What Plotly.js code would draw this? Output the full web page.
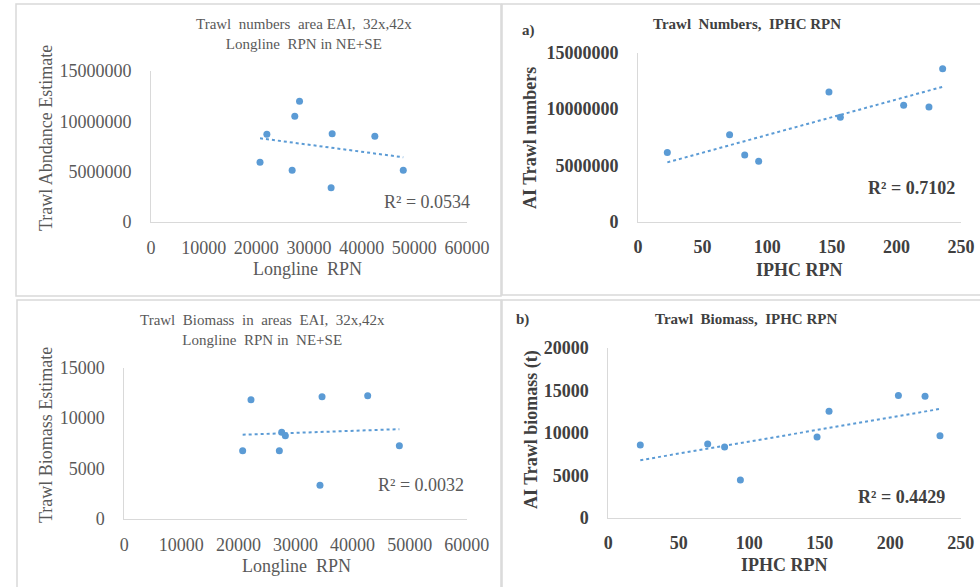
<!DOCTYPE html>
<html>
<head>
<meta charset="utf-8">
<script src="https://cdn.plot.ly/plotly-3.0.1.min.js"></script>
<style>html,body{margin:0;padding:0;background:#fff}#chart{width:980px;height:587px}</style>
</head>
<body>
<div id="chart"></div>
<script>
// ---- Data ----
// Panel 1: Trawl numbers vs Longline RPN
const p1Longline = [20700, 22000, 26800, 27300, 28200, 34400, 34200, 42500, 47900];
const p1TrawlNumbers = [5930000, 8710000, 5130000, 10500000, 12000000, 8770000, 3410000, 8510000, 5130000];
// Panel 2: Trawl numbers vs IPHC RPN
const p2Iphc = [22.7, 70.9, 82.6, 93.4, 147.8, 156.6, 205.6, 225.2, 235.8];
const p2TrawlNumbers = [6150000, 7720000, 5920000, 5360000, 11510000, 9260000, 10330000, 10180000, 13580000];
// Panel 3: Trawl biomass vs Longline RPN
const p3Longline = [20740, 22200, 27170, 27580, 28220, 34650, 34290, 42650, 48200];
const p3TrawlBiomass = [6770, 11830, 6770, 8590, 8260, 12130, 3340, 12230, 7270];
// Panel 4: Trawl biomass vs IPHC RPN
const p4Iphc = [22.7, 70.5, 82.5, 93.7, 148.1, 156.6, 205.8, 224.7, 235.3];
const p4TrawlBiomass = [8550, 8670, 8310, 4430, 9490, 12510, 14390, 14280, 9650];

const panelTitles = [
  "Trawl  numbers  area EAI,  32x,42x<br>Longline  RPN in NE+SE",
  "Trawl  Numbers,  IPHC RPN",
  "Trawl  Biomass  in  areas  EAI,  32x,42x<br>Longline  RPN in  NE+SE",
  "Trawl  Biomass,  IPHC RPN"
];
const xTitles = ["Longline  RPN", "IPHC RPN", "Longline  RPN", "IPHC RPN"];
const yTitles = ["Trawl Abndance Estimate", "AI Trawl numbers", "Trawl Biomass Estimate", "AI Trawl biomass (t)"];
const r2Labels = ["R² = 0.0534", "R² = 0.7102", "R² = 0.0032", "R² = 0.4429"];
const panelLetters = ["a)", "b)"];
const xTicks1 = [0, 10000, 20000, 30000, 40000, 50000, 60000];
const yTicks1 = [0, 5000000, 10000000, 15000000];
const xTicks2 = [0, 50, 100, 150, 200, 250];
const yTicks3 = [0, 5000, 10000, 15000];
const yTicks4 = [0, 5000, 10000, 15000, 20000];

// ---- helpers ----
const W = 980, H = 587;
const px = v => v / W;
const py = v => 1 - v / H;
const blue = '#5b9bd5';
const serif = 'Liberation Serif, Times New Roman, serif';

function linfit(xs, ys) {
  const n = xs.length;
  const mx = xs.reduce((a, b) => a + b, 0) / n;
  const my = ys.reduce((a, b) => a + b, 0) / n;
  let sxy = 0, sxx = 0;
  for (let i = 0; i < n; i++) { sxy += (xs[i] - mx) * (ys[i] - my); sxx += (xs[i] - mx) ** 2; }
  const b = sxy / sxx, a = my - b * mx;
  const x0 = Math.min(...xs), x1 = Math.max(...xs);
  return { x: [x0, x1], y: [a + b * x0, a + b * x1] };
}

const sets = [
  [p1Longline, p1TrawlNumbers, 'x', 'y'],
  [p2Iphc, p2TrawlNumbers, 'x2', 'y2'],
  [p3Longline, p3TrawlBiomass, 'x3', 'y3'],
  [p4Iphc, p4TrawlBiomass, 'x4', 'y4']
];
const traces = [];
sets.forEach(([xs, ys, xa, ya]) => {
  const f = linfit(xs, ys);
  traces.push({ x: f.x, y: f.y, xaxis: xa, yaxis: ya, type: 'scatter', mode: 'lines',
    line: { color: blue, width: 2, dash: 'dot' }, hoverinfo: 'skip', showlegend: false });
  traces.push({ x: xs, y: ys, xaxis: xa, yaxis: ya, type: 'scatter', mode: 'markers',
    marker: { color: blue, size: 7 }, showlegend: false, cliponaxis: false });
});

function xax(domain, range, ticks, color, bold) {
  return { domain: domain, range: range, tickvals: ticks, ticktext: ticks.map(String),
    showgrid: false, zeroline: false, showline: true, linecolor: '#d9d9d9', linewidth: 1,
    ticks: '', ticklabelstandoff: 9, fixedrange: true,
    tickfont: { family: serif, size: 18, color: color, weight: bold ? 'bold' : 'normal' } };
}
function yax(domain, range, ticks, color, bold, anchor) {
  return { domain: domain, range: range, tickvals: ticks, ticktext: ticks.map(String), anchor: anchor,
    showgrid: false, zeroline: false, showline: true, linecolor: '#d9d9d9', linewidth: 1,
    ticks: '', ticklabelstandoff: 15, fixedrange: true,
    tickfont: { family: serif, size: 18, color: color, weight: bold ? 'bold' : 'normal' } };
}

const grayL = '#595959', grayR = '#404040';

function ann(text, x, y, size, color, bold, angle) {
  return { text: text, x: px(x), y: py(y), xref: 'paper', yref: 'paper', showarrow: false,
    xanchor: 'center', yanchor: 'middle', textangle: angle || 0,
    font: { family: serif, size: size, color: color, weight: bold ? 'bold' : 'normal' } };
}

const annotations = [
  ann(panelTitles[0], 304, 34, 15, grayL, false),
  ann(panelTitles[1], 747, 24, 15, grayR, true),
  ann(panelTitles[2], 262, 330, 15, grayL, false),
  ann(panelTitles[3], 746, 319, 15, grayR, true),
  ann(panelLetters[0], 528, 30, 15, grayR, true),
  ann(panelLetters[1], 522, 319, 15, grayR, true),
  ann(xTitles[0], 307, 269, 18, grayL, false),
  ann(xTitles[1], 799, 270, 18, grayR, true),
  ann(xTitles[2], 296, 566, 18, grayL, false),
  ann(xTitles[3], 784, 565, 18, grayR, true),
  ann(yTitles[0], 46, 138, 18, grayL, false, -90),
  ann(yTitles[1], 530, 138, 18, grayR, true, -90),
  ann(yTitles[2], 46, 435, 18, grayL, false, -90),
  ann(yTitles[3], 531, 430, 18, grayR, true, -90),
  ann(r2Labels[0], 427, 202, 18, grayL, false),
  ann(r2Labels[1], 911, 188, 18, grayR, true),
  ann(r2Labels[2], 421, 485, 18, grayL, false),
  ann(r2Labels[3], 901, 497, 18, grayR, true)
];

function rect(x0, y0, x1, y1) {
  return { type: 'rect', xref: 'paper', yref: 'paper', x0: px(x0), x1: px(x1), y0: py(y1), y1: py(y0),
    line: { color: '#d9d9d9', width: 1.5 }, layer: 'below' };
}

const layout = {
  width: W, height: H, margin: { l: 0, r: 0, t: 0, b: 0 },
  paper_bgcolor: '#fff', plot_bgcolor: 'rgba(0,0,0,0)', showlegend: false,
  xaxis: Object.assign(xax([px(151), px(467)], [0, 60000], xTicks1, grayL, false), { anchor: 'y' }),
  yaxis: yax([py(222), py(71)], [0, 15000000], yTicks1, grayL, false, 'x'),
  xaxis2: Object.assign(xax([px(638), px(961)], [0, 250], xTicks2, grayR, true), { anchor: 'y2' }),
  yaxis2: yax([py(221.7), py(52.7)], [0, 15000000], yTicks1, grayR, true, 'x2'),
  xaxis3: Object.assign(xax([px(124.3), px(466.7)], [0, 60000], xTicks1, grayL, false), { anchor: 'y3' }),
  yaxis3: yax([py(519), py(367.7)], [0, 15000], yTicks3, grayL, false, 'x3'),
  xaxis4: Object.assign(xax([px(608.3), px(960.7)], [0, 250], xTicks2, grayR, true), { anchor: 'y4' }),
  yaxis4: yax([py(517.7), py(347.7)], [0, 20000], yTicks4, grayR, true, 'x4'),
  annotations: annotations,
  shapes: [rect(16, 4, 501, 296), rect(502, 4, 985, 295), rect(17, 300, 501, 592), rect(502, 300, 985, 592)]
};

Plotly.newPlot('chart', traces, layout, { staticPlot: true, displayModeBar: false });
</script>
</body>
</html>
